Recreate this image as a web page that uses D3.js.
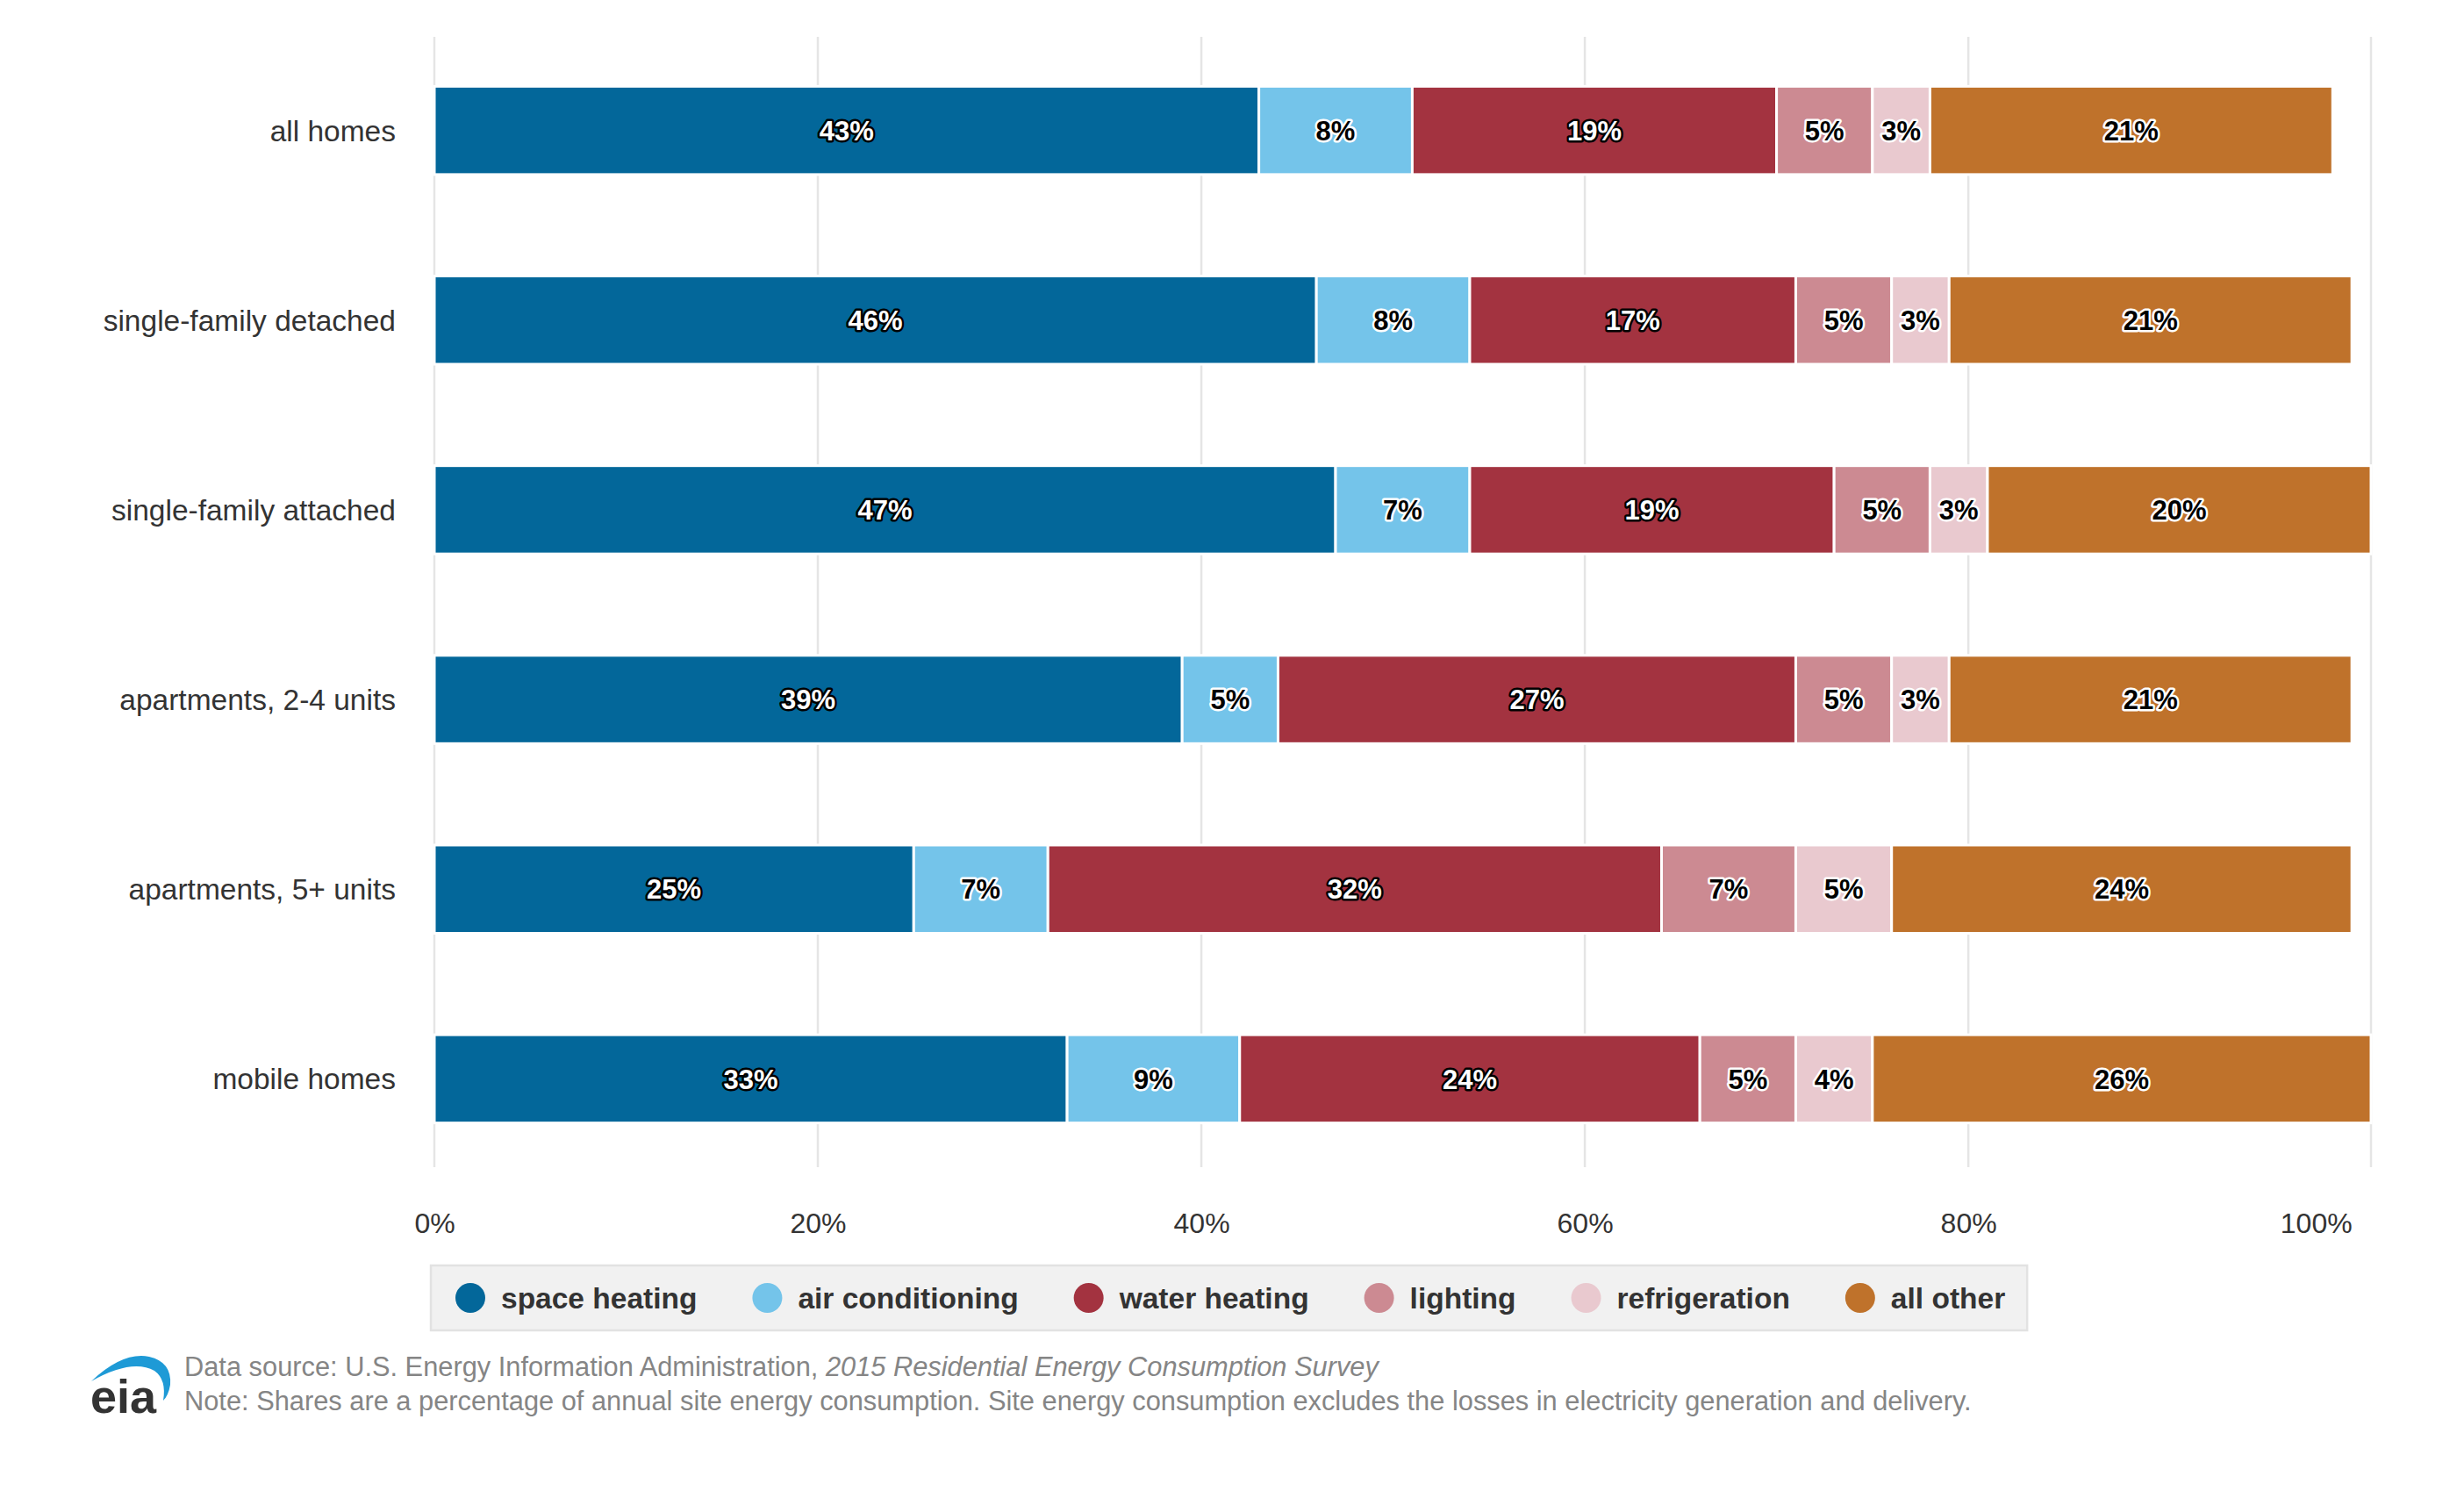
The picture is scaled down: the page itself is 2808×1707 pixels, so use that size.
<!DOCTYPE html>
<html>
<head>
<meta charset="utf-8">
<script src="https://cdn.jsdelivr.net/npm/d3@7"></script>
<style>
  body { margin: 0; background: #fff; }
  text { font-family: "Liberation Sans", Arial, sans-serif; }
</style>
</head>
<body>
<script>
// Chart data: shares of site energy consumption by end use (%)
let categories = ["all homes", "single-family detached", "single-family attached",
    "apartments, 2-4 units", "apartments, 5+ units", "mobile homes"];

let spaceHeating    = [43, 46, 47, 39, 25, 33];
let airConditioning = [8, 8, 7, 5, 7, 9];
let waterHeating    = [19, 17, 19, 27, 32, 24];
let lighting        = [5, 5, 5, 5, 7, 5];
let refrigeration   = [3, 3, 3, 3, 5, 4];
let allOther        = [21, 21, 20, 21, 24, 26];

let seriesNames = ["space heating", "air conditioning", "water heating",
    "lighting", "refrigeration", "all other"];
let seriesValues = [spaceHeating, airConditioning, waterHeating,
    lighting, refrigeration, allOther];

let xTicks = [0, 20, 40, 60, 80, 100];
let xTickLabels = ["0%", "20%", "40%", "60%", "80%", "100%"];

let colors = ["#03679a", "#74c4ea", "#a33340", "#cc8a92", "#e9c9cf", "#bf722b"];
// dark segments get white labels with a black outline, light ones the reverse
let darkSeries = ["space heating", "water heating"];

// Width and height of the picture
let w = 2808;
let h = 1707;

let plotLeft = 495, plotRight = 2702, plotTop = 42, plotBottom = 1330;

// Build rows for d3.stack
let table = categories.map(function(c, i) {
    let row = { category: c };
    seriesNames.forEach(function(s, j) { row[s] = seriesValues[j][i]; });
    return row;
});

let stacked = d3.stack().keys(seriesNames)(table);

let svg = d3.select("body")
    .append("svg")
    .attr("width", w)
    .attr("height", h);

let x = d3.scaleLinear()
    .domain([0, 101])
    .range([plotLeft, plotRight]);

let y = d3.scaleBand()
    .domain(categories)
    .range([40, 1338])
    .paddingInner(0.535)
    .paddingOuter(0.27);

let color = d3.scaleOrdinal()
    .domain(seriesNames)
    .range(colors);

// Vertical gridlines (last one sits at the panel edge)
svg.append("g")
    .selectAll("line")
    .data([0, 20, 40, 60, 80, 101])
    .enter()
    .append("line")
    .attr("x1", function(d) { return x(d); })
    .attr("x2", function(d) { return x(d); })
    .attr("y1", plotTop)
    .attr("y2", plotBottom)
    .attr("stroke", "#e5e5e5")
    .attr("stroke-width", 2.5);

// Stacked bar segments
let layers = svg.append("g")
    .selectAll("g")
    .data(stacked)
    .enter()
    .append("g")
    .attr("fill", function(d) { return color(d.key); });

layers.selectAll("rect")
    .data(function(d) { return d; })
    .enter()
    .append("rect")
    .attr("x", function(d) { return x(d[0]); })
    .attr("width", function(d) { return x(d[1]) - x(d[0]); })
    .attr("y", function(d) { return y(d.data.category); })
    .attr("height", y.bandwidth())
    .attr("stroke", "#fff")
    .attr("stroke-width", 3);

// Value labels in the middle of each segment
layers.selectAll("text")
    .data(function(d) {
        return d.map(function(p) { return { key: d.key, p: p }; });
    })
    .enter()
    .append("text")
    .attr("x", function(d) { return (x(d.p[0]) + x(d.p[1])) / 2; })
    .attr("y", function(d) { return y(d.p.data.category) + y.bandwidth() / 2; })
    .attr("dy", "0.36em")
    .attr("text-anchor", "middle")
    .style("font-size", "31px")
    .style("font-weight", "bold")
    .style("paint-order", "stroke")
    .attr("stroke-width", 5)
    .attr("stroke-linejoin", "round")
    .attr("fill", function(d) { return darkSeries.includes(d.key) ? "#fff" : "#000"; })
    .attr("stroke", function(d) { return darkSeries.includes(d.key) ? "#000" : "#fff"; })
    .text(function(d) { return (d.p[1] - d.p[0]) + "%"; });

// Category labels
svg.append("g")
    .selectAll("text")
    .data(categories)
    .enter()
    .append("text")
    .attr("x", plotLeft - 44)
    .attr("y", function(d) { return y(d) + y.bandwidth() / 2; })
    .attr("dy", "0.36em")
    .attr("text-anchor", "end")
    .style("font-size", "33.5px")
    .attr("fill", "#333")
    .text(function(d) { return d; });

// X axis labels
let xAxis = d3.axisBottom(x)
    .tickValues(xTicks)
    .tickSize(0)
    .tickPadding(0)
    .tickFormat(function(d, i) { return xTickLabels[i]; });

let xAxisG = svg.append("g")
    .attr("transform", "translate(0,1382)")
    .call(xAxis);

xAxisG.select(".domain").remove();
xAxisG.selectAll("text")
    .style("font-size", "32px")
    .style("font-family", "'Liberation Sans', Arial, sans-serif")
    .attr("fill", "#333")
    .attr("dy", "0.72em");
xAxisG.selectAll(".tick:last-of-type text").attr("text-anchor", "end");

// Legend
let legend = svg.append("g");
let legendBox = legend.append("rect")
    .attr("x", 491)
    .attr("y", 1442)
    .attr("height", 74)
    .attr("fill", "#f1f1f1")
    .attr("stroke", "#e2e2e2")
    .attr("stroke-width", 2.5);

let lx = 536;
seriesNames.forEach(function(s) {
    legend.append("circle")
        .attr("cx", lx)
        .attr("cy", 1479)
        .attr("r", 17)
        .attr("fill", color(s));
    let t = legend.append("text")
        .attr("x", lx + 35)
        .attr("y", 1479)
        .attr("dy", "0.36em")
        .style("font-size", "33.5px")
        .style("font-weight", "bold")
        .attr("fill", "#333")
        .text(s);
    let tw = t.node().getComputedTextLength();
    if (s === seriesNames[seriesNames.length - 1]) {
        legendBox.attr("width", lx + 35 + tw + 25 - 491);
    }
    lx += 35 + tw + 80;
});

// Footnote
let note = svg.append("g")
    .style("font-size", "30.8px")
    .attr("fill", "#858585");

let line1 = note.append("text")
    .attr("x", 210)
    .attr("y", 1568);
line1.append("tspan").text("Data source: U.S. Energy Information Administration, ");
line1.append("tspan").style("font-style", "italic")
    .text("2015 Residential Energy Consumption Survey");

note.append("text")
    .attr("x", 210)
    .attr("y", 1607)
    .text("Note: Shares are a percentage of annual site energy consumption. Site energy consumption excludes the losses in electricity generation and delivery.");

// eia logo
svg.append("path")
    .attr("d", "M104,1574 Q140,1540 170,1546 Q196,1552 194,1578 Q192,1590 186,1596 Q190,1572 176,1562 Q150,1548 104,1574 Z")
    .attr("fill", "#1e9ad6");

svg.append("text")
    .attr("x", 103)
    .attr("y", 1610)
    .style("font-size", "54px")
    .style("font-weight", "bold")
    .attr("fill", "#333")
    .text("eia");
</script>
</body>
</html>
